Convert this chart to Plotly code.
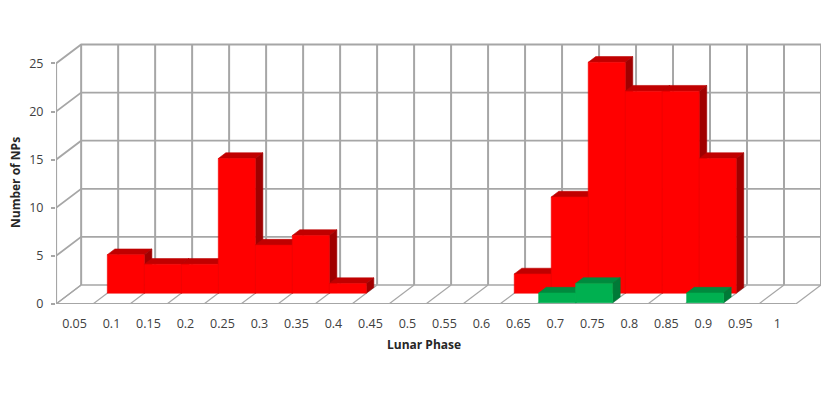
import plotly.graph_objects as go

categories = ["0.05", "0.1", "0.15", "0.2", "0.25", "0.3", "0.35", "0.4", "0.45", "0.5",
              "0.55", "0.6", "0.65", "0.7", "0.75", "0.8", "0.85", "0.9", "0.95", "1"]
red_values = [0, 4, 3, 3, 14, 5, 6, 1, 0, 0, 0, 0, 2, 10, 24, 21, 21, 14, 0, 0]
green_values = [0, 0, 0, 0, 0, 0, 0, 0, 0, 0, 0, 0, 0, 1, 2, 0, 0, 1, 0, 0]
y_ticks = [0, 5, 10, 15, 20, 25]

# 3D-look projection, expressed in axis units
DX = 0.68   # horizontal shift of the full depth, in categories
DY = 1.975  # vertical shift of the full depth, in values
GRID = "#a6a6a6"
N = len(categories)


def proj(x, y, d):
    return x + DX * d, y + DY * d


fig = go.Figure()


def line(points, color=GRID, width=1.6):
    xs, ys = zip(*points)
    fig.add_trace(go.Scatter(x=xs, y=ys, mode="lines", hoverinfo="skip",
                             line=dict(color=color, width=width)))


def poly(points, color, edge=None):
    xs, ys = zip(*(points + [points[0]]))
    fig.add_trace(go.Scatter(x=xs, y=ys, mode="lines", fill="toself", fillcolor=color,
                             hoverinfo="skip", line=dict(color=edge or color, width=0.6)))


# walls and floor
for v in y_ticks:
    line([proj(0, v, 0), proj(0, v, 1), proj(N, v, 1)], width=1.8 if v else 1.3)
for i in range(N + 1):
    line([proj(i, 0, 1), proj(i, 25, 1)], width=2)
    line([proj(i, 0, 0), proj(i, 0, 1)], width=1.2)
line([(0, 0), (0, 25)], width=2.2)
line([(0, 0), (N, 0)], width=2)


def bars(values, d0, d1, front, top, side):
    for i, v in enumerate(values):
        if v <= 0:
            continue
        a = proj(i, v, d0)
        b = proj(i + 1, v, d0)
        c = proj(i + 1, v, d1)
        e = proj(i, v, d1)
        f = proj(i + 1, 0, d0)
        g = proj(i + 1, 0, d1)
        h = proj(i, 0, d0)
        poly([a, e, c, b], top)
        poly([b, c, g, f], side)
        poly([h, a, b, f], front, edge="#f00000" if front == "#ff0000" else front)


bars(red_values, 0.57, 0.87, "#ff0000", "#c00000", "#a00000")
bars(green_values, 0.07, 0.37, "#00b050", "#008a3e", "#007a37")

fig.update_layout(
    width=814, height=401, autosize=False, showlegend=False,
    paper_bgcolor="white", plot_bgcolor="white",
    margin=dict(l=48, r=1, t=35, b=105),
    font=dict(family="Open Sans, Noto Sans, sans-serif", size=12, color="#404040"),
    xaxis=dict(range=[0, N + DX], tickmode="array",
               tickvals=[i + 0.5 for i in range(N)], ticktext=categories,
               showgrid=False, zeroline=False, showline=False, ticks="",
               ticklabelstandoff=10, tickfont=dict(size=12.5, color="#404040")),
    yaxis=dict(range=[0, 27.13], tickmode="array", tickvals=y_ticks,
               showgrid=False, zeroline=False, showline=False,
               ticks="outside", ticklen=4, tickcolor=GRID, tickwidth=1.5,
               ticklabelstandoff=5, tickfont=dict(size=12.5, color="#404040")),
    annotations=[
        dict(text="<b>Lunar Phase</b>", xref="paper", yref="paper",
             x=(424 - 56) / 765, y=(304 - 344) / 261, showarrow=False,
             xanchor="center", yanchor="middle",
             font=dict(size=12, color="#262626")),
        dict(text="<b>Number of NPs</b>", xref="paper", yref="paper",
             x=(15 - 56) / 765, y=(304 - 183) / 261, textangle=-90, showarrow=False,
             xanchor="center", yanchor="middle",
             font=dict(size=12, color="#262626")),
    ],
)

fig.write_html("out.html")
